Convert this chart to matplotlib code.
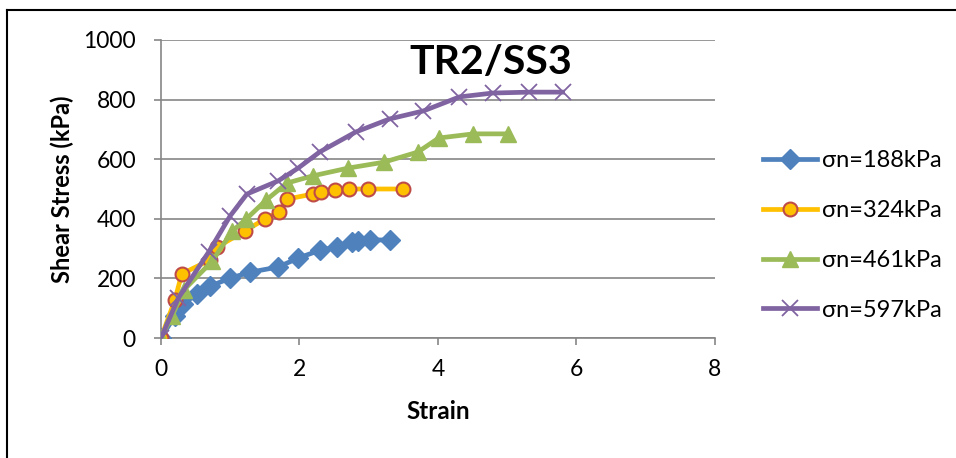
import numpy as np
import matplotlib
matplotlib.use("Agg")
import matplotlib.pyplot as plt
from matplotlib.lines import Line2D

plt.rcParams['font.family'] = ['Lato', 'DejaVu Sans']

# Dados (strain, shear stress em kPa)
strain_188 = [0, 0.2, 0.32, 0.52, 0.71, 1.0, 1.29, 1.69, 1.98, 2.3, 2.54, 2.76, 2.84, 3.02, 3.31]
stress_188 = [0, 74, 114, 148, 174, 201, 221, 238, 268, 295, 305, 322, 325, 329, 329]

strain_324 = [0, 0.2, 0.3, 0.71, 0.81, 1.21, 1.5, 1.7, 1.82, 2.19, 2.31, 2.51, 2.71, 2.99, 3.49]
stress_324 = [0, 127, 215, 262, 305, 359, 399, 423, 466, 483, 490, 497, 500, 500, 500]

strain_461 = [0, 0.16, 0.33, 0.74, 1.03, 1.23, 1.52, 1.82, 2.19, 2.7, 3.22, 3.71, 4.01, 4.51, 5.01]
stress_461 = [0, 74, 161, 258, 359, 399, 463, 520, 544, 570, 590, 624, 671, 685, 685]

strain_597 = [0, 0.25, 0.69, 1.0, 1.24, 1.69, 1.98, 2.29, 2.81, 3.3, 3.79, 4.31, 4.79, 5.32, 5.8]
stress_597 = [0, 134, 289, 410, 483, 527, 570, 624, 691, 735, 762, 809, 822, 825, 825]

labels = ['σn=188kPa', 'σn=324kPa', 'σn=461kPa', 'σn=597kPa']

fig = plt.figure(figsize=(9.56, 4.58), dpi=100)
ax = fig.add_axes([0.1684, 0.262, 0.5795, 0.6507])

ax.plot(strain_188, stress_188, color='#4F81BD', lw=3.4, marker='D', ms=10,
        mfc='#4F81BD', mec='#4F81BD', label=labels[0], zorder=3)
ax.plot(strain_324, stress_324, color='#FFC000', lw=3.4, marker='o', ms=10,
        mfc='#FFC000', mec='#BE4B48', mew=1.5, label=labels[1], zorder=4)
ax.plot(strain_461, stress_461, color='#9BBB59', lw=3.4, marker='^', ms=11,
        mfc='#9BBB59', mec='#9BBB59', label=labels[2], zorder=5)
ax.plot(strain_597, stress_597, color='#8064A2', lw=3.4, marker='x', ms=11,
        mec='#8064A2', mew=1.3, label=labels[3], zorder=6)

ax.set_xlim(0, 8)
ax.set_ylim(0, 1000)
ax.set_xticks([0, 2, 4, 6, 8])
ax.set_yticks([0, 200, 400, 600, 800, 1000])
ax.yaxis.grid(True, color='#868686', lw=1.2)
ax.set_axisbelow(True)
for s in ['top', 'right']:
    ax.spines[s].set_visible(False)
for s in ['left', 'bottom']:
    ax.spines[s].set_color('#868686')
    ax.spines[s].set_linewidth(1.2)
ax.tick_params(axis='both', colors='#868686', labelcolor='black', labelsize=16.5,
               length=5, width=1.2)
ax.tick_params(axis='x', pad=10)
ax.tick_params(axis='y', pad=13)

ax.set_xlabel('Strain', fontsize=17.5, fontweight='bold', va='center')
ax.xaxis.set_label_coords(0.5, -0.245)
ax.set_ylabel('Shear Stress (kPa)', fontsize=17, fontweight='bold', va='center')
ax.yaxis.set_label_coords(-0.179, 0.5)

ax.text(4.76, 925, 'TR2/SS3', fontsize=29.5, fontweight='bold', ha='center', va='center')

ax.legend(loc='center left', bbox_to_anchor=(1.087, 0.344), frameon=False,
          fontsize=17, handlelength=2.3, labelspacing=1.22, handletextpad=0.2,
          borderpad=0, borderaxespad=0)

# moldura externa do gráfico
fig.add_artist(Line2D([7 / 956, 7 / 956], [0, 1 - 10 / 458], color='black', lw=1.5))
fig.add_artist(Line2D([7 / 956, 1], [1 - 10 / 458, 1 - 10 / 458], color='black', lw=1.5))

fig.savefig('out.png', dpi=100)
